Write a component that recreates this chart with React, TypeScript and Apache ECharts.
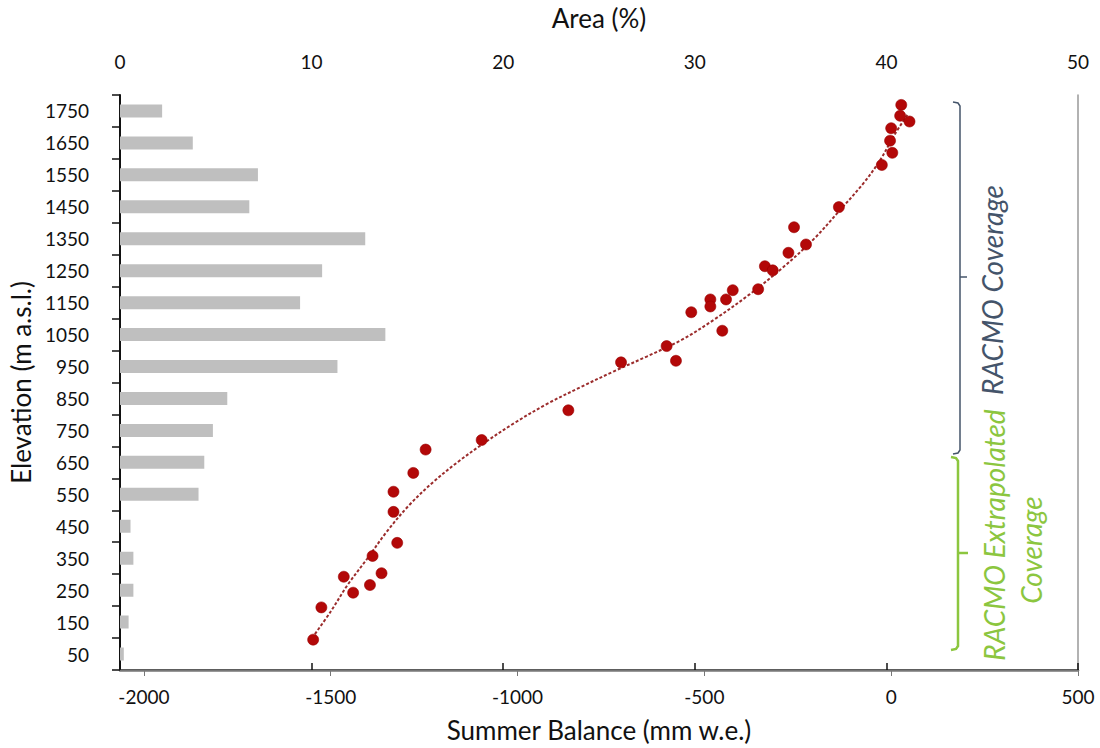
import React, { useEffect, useRef } from "react";
import * as echarts from "echarts";

const elevationLabels = ["50","150","250","350","450","550","650","750","850","950","1050","1150","1250","1350","1450","1550","1650","1750"];
const areaPercent = [0.2,0.45,0.7,0.7,0.55,4.1,4.4,4.85,5.6,11.35,13.85,9.4,10.55,12.8,6.75,7.2,3.8,2.2];

const balanceX = [-1547,-1525,-1465,-1440,-1395,-1364,-1388,-1332,-1332,-1322,-1279,-1246,-1096,-864,-723,-601,-576,-535,-484,-484,-452,-442,-424,-356,-338,-317,-275,-260,-228,-140,-25,3,-3,0,27,24,49];
const balanceElev = [95,196,292,242,266,303,357,495,558,398,617,690,720,813,963,1014,968,1120,1160,1138,1062,1160,1189,1192,1264,1251,1306,1386,1332,1449,1581,1619,1657,1696,1769,1735,1717];

const trendX = [-1550,-1500,-1455,-1402,-1350,-1290,-1225,-1160,-1095,-1010,-921,-832,-742,-653,-560,-475,-380,-290,-208,-136,-74,-29,6,46];
const trendElev = [100,183,266,349,433,516,589,651,706,772,833,885,935,982,1034,1096,1175,1260,1348,1441,1524,1597,1670,1743];

const bottomTicks = [-2000,-1500,-1000,-500,0,500];

const FONT = "Lato, 'Open Sans', sans-serif";

export default function App() {
  const ref = useRef<HTMLDivElement>(null);
  useEffect(() => {
    const chart = echarts.init(ref.current!, null, { renderer: "svg" });
    const blue = "#44546a";
    const green = "#8cc63f";
    const textColor = "#111";
    chart.setOption({
      animation: false,
      backgroundColor: "#ffffff",
      textStyle: { fontFamily: FONT },
      grid: { left: 119, right: 22, top: 95, bottom: 76, containLabel: false },
      xAxis: [
        {
          type: "value",
          position: "top",
          min: 0,
          max: 50,
          interval: 10,
          name: "Area (%)",
          nameLocation: "middle",
          nameGap: 64,
          nameTextStyle: { fontSize: 26, color: textColor, fontFamily: FONT },
          axisLine: { show: true, lineStyle: { color: "#111", width: 2 } },
          axisTick: { show: true, inside: false, length: 7, lineStyle: { color: "#111", width: 1.5 } },
          axisLabel: { fontSize: 19, color: textColor, margin: 24, fontFamily: FONT },
          splitLine: { show: false },
        },
        {
          type: "value",
          position: "bottom",
          min: -2064,
          max: 500,
          name: "Summer Balance (mm w.e.)",
          nameLocation: "middle",
          nameGap: 47,
          nameTextStyle: { fontSize: 26, color: textColor, fontFamily: FONT },
          axisLine: { show: true, onZero: false, lineStyle: { color: "#777", width: 2.5 } },
          axisTick: { show: true, length: 6, customValues: bottomTicks, lineStyle: { color: "#777", width: 1 } },
          axisLabel: {
            fontSize: 19,
            color: textColor,
            margin: 17,
            customValues: bottomTicks,
            fontFamily: FONT,
            formatter: (v: number) => String(v),
          },
          splitLine: { show: false },
        },
      ],
      yAxis: [
        {
          type: "category",
          data: elevationLabels,
          position: "left",
          name: "Elevation (m a.s.l.)",
          nameLocation: "middle",
          nameGap: 77,
          nameTextStyle: { fontSize: 26, color: textColor, fontFamily: FONT },
          axisLine: { show: true, lineStyle: { color: "#111", width: 2 } },
          axisTick: { show: true, length: 8, lineStyle: { color: "#111", width: 1.5 } },
          axisLabel: { fontSize: 19, color: textColor, margin: 31, fontFamily: FONT },
          splitLine: { show: false },
        },
        {
          type: "value",
          position: "right",
          min: 0,
          max: 1800,
          axisLine: { show: true, onZero: false, lineStyle: { color: "#999", width: 1.5 } },
          axisTick: { show: false },
          axisLabel: { show: false },
          splitLine: { show: false },
        },
      ],
      series: [
        {
          type: "bar",
          xAxisIndex: 0,
          yAxisIndex: 0,
          data: areaPercent,
          barWidth: 13,
          itemStyle: { color: "#bfbfbf" },
          z: 1,
        },
        {
          type: "line",
          xAxisIndex: 1,
          yAxisIndex: 1,
          data: trendX.map((x, i) => [x, trendElev[i]]),
          smooth: 0.35,
          showSymbol: false,
          lineStyle: { color: "#9b2c2c", width: 2, type: [3, 2] },
          z: 2,
        },
        {
          type: "scatter",
          xAxisIndex: 1,
          yAxisIndex: 1,
          data: balanceX.map((x, i) => [x, balanceElev[i]]),
          symbolSize: 11,
          itemStyle: { color: "#b30808", opacity: 1, borderColor: "#990000", borderWidth: 0.6 },
          z: 3,
        },
      ],
      graphic: [
        {
          type: "polyline",
          shape: { points: [[953, 102], [958, 103], [960, 106], [960, 450], [958, 453], [953, 454]] },
          style: { stroke: blue, lineWidth: 1.5, fill: "none" },
        },
        {
          type: "line",
          shape: { x1: 960, y1: 277, x2: 967, y2: 277 },
          style: { stroke: blue, lineWidth: 1.5 },
        },
        {
          type: "polyline",
          shape: { points: [[951, 457], [956, 458], [958, 461], [958, 646], [956, 649], [951, 650]] },
          style: { stroke: green, lineWidth: 2.5, fill: "none" },
        },
        {
          type: "line",
          shape: { x1: 958, y1: 553, x2: 968, y2: 553 },
          style: { stroke: green, lineWidth: 2.5 },
        },
        {
          type: "text",
          x: 992,
          y: 290,
          rotation: Math.PI / 2,
          style: { text: "RACMO Coverage", fill: blue, font: `italic 28px ${FONT}`, align: "center", verticalAlign: "middle" },
        },
        {
          type: "text",
          x: 994,
          y: 535,
          rotation: Math.PI / 2,
          style: { text: "RACMO Extrapolated", fill: green, font: `italic 28px ${FONT}`, align: "center", verticalAlign: "middle" },
        },
        {
          type: "text",
          x: 1031,
          y: 550,
          rotation: Math.PI / 2,
          style: { text: "Coverage", fill: green, font: `italic 28px ${FONT}`, align: "center", verticalAlign: "middle" },
        },
      ],
    });
    return () => chart.dispose();
  }, []);
  return <div ref={ref} style={{ position: "absolute", left: 0, top: 0, width: 1100, height: 748 }} />;
}
